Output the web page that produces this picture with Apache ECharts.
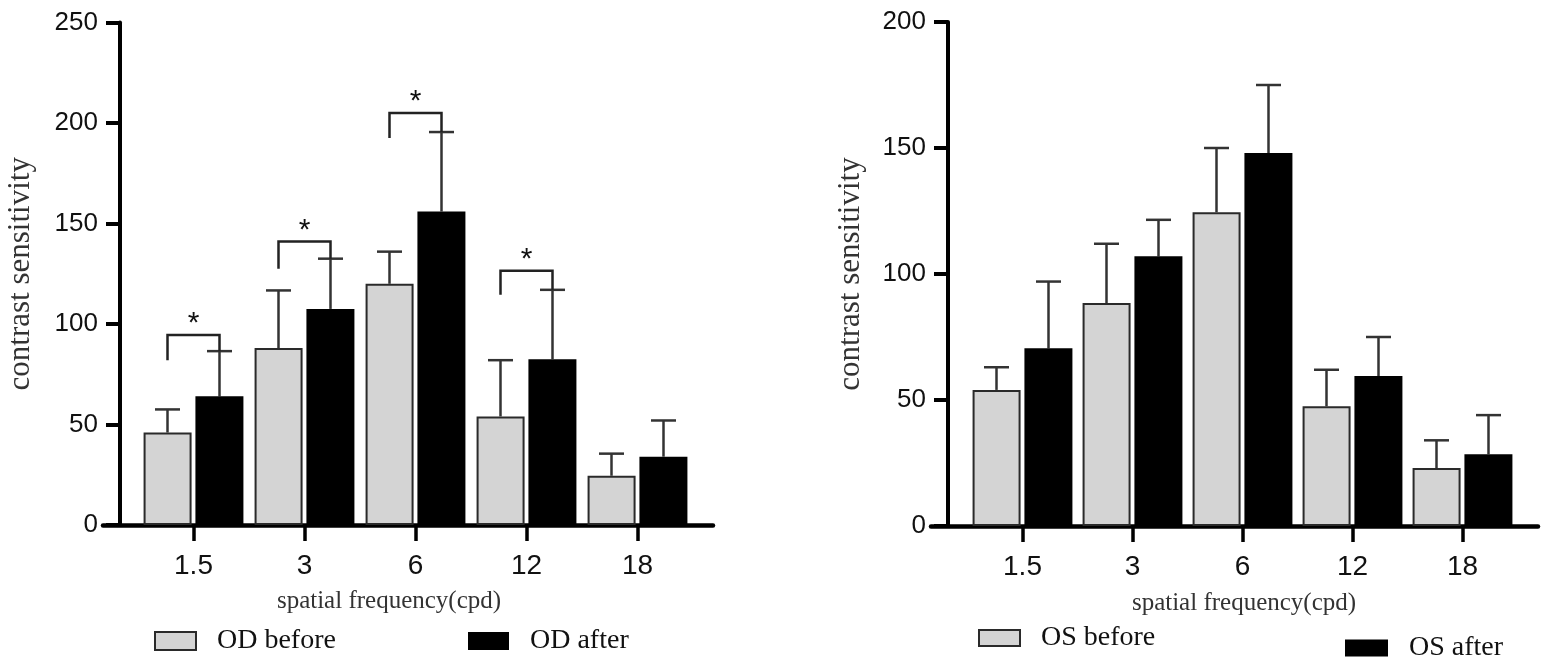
<!DOCTYPE html>
<html>
<head>
<meta charset="utf-8">
<script src="https://cdn.jsdelivr.net/npm/echarts@6/dist/echarts.min.js"></script>
<style>
  html, body { margin: 0; padding: 0; background: #fff; }
  #chart { width: 1547px; height: 661px; }
</style>
</head>
<body>
<div id="chart"></div>
<script>
// categories and values
var categories = ['1.5', '3', '6', '12', '18'];

var odBefore   = [46, 88, 120, 54, 24.5];
var odBeforeSd = [11.5, 28.7, 16, 28, 11];
var odAfter    = [64, 107.5, 156, 82.5, 34];
var odAfterSd  = [22.5, 25, 39.5, 34.5, 18];

var osBefore   = [54, 88.5, 124.5, 47.5, 23];
var osBeforeSd = [9, 23.5, 25.5, 14.5, 11];
var osAfter    = [70.5, 107, 148, 59.5, 28.5];
var osAfterSd  = [26.5, 14.5, 27, 15.5, 15.5];

// significance brackets (left panel): category index, bracket top, left leg end
var sigCats = [0, 1, 2, 3];
var sigTop  = [94.5, 141, 205, 126.5];
var sigLeg  = [82, 127.5, 192.5, 114.5];

var SANS = '"Liberation Sans", Arial, sans-serif';
var SERIF = '"Liberation Serif", "Times New Roman", serif';
var BAR_W = 48;
var HALF = 26;   // bar centre offset from category centre

var chart = echarts.init(document.getElementById('chart'));

function errRender(offset) {
  return function (params, api) {
    var i = api.value(0);
    var x = api.coord([i, 0])[0] + offset;
    var y0 = api.coord([i, api.value(1)])[1];
    var y1 = api.coord([i, api.value(2)])[1];
    var st = { stroke: '#333', lineWidth: 2.5 };
    return {
      type: 'group',
      children: [
        { type: 'line', shape: { x1: x, y1: y0, x2: x, y2: y1 }, style: st },
        { type: 'line', shape: { x1: x - 12.5, y1: y1, x2: x + 12.5, y2: y1 }, style: st }
      ]
    };
  };
}

function sigRender(params, api) {
  var i = api.value(0);
  var cx = api.coord([i, 0])[0];
  var yT = api.coord([i, api.value(1)])[1];
  var yL = api.coord([i, api.value(2)])[1];
  var yR = api.coord([i, api.value(3)])[1];
  var xL = cx - HALF, xR = cx + HALF;
  return {
    type: 'group',
    children: [
      { type: 'polyline', shape: { points: [[xL, yL], [xL, yT], [xR, yT], [xR, yR]] },
        style: { stroke: '#222', lineWidth: 2.5, fill: null } },
      { type: 'text', style: { text: '*', x: (xL + xR) / 2, y: yT + 4, align: 'center',
        verticalAlign: 'bottom', font: '30px ' + SANS, fill: '#111' } }
    ]
  };
}

function errData(vals, sd) {
  return vals.map(function (v, i) { return [i, v, v + sd[i]]; });
}

function yAxisOf(grid, max, offset, gap) {
  return {
    type: 'value', gridIndex: grid, min: 0, max: max, interval: 50, offset: offset,
    name: 'contrast sensitivity', nameLocation: 'middle', nameGap: gap,
    nameTextStyle: { fontFamily: SERIF, fontSize: 31, color: '#333' },
    axisLine: { show: true, lineStyle: { color: '#000', width: 4 } },
    axisTick: { show: true, length: 14, lineStyle: { color: '#000', width: 4 } },
    axisLabel: { margin: 22, fontFamily: SANS, fontSize: 26, color: '#111' },
    splitLine: { show: false }
  };
}

function catAxisOf(grid) {
  return {
    type: 'category', gridIndex: grid, data: categories,
    axisLine: { show: false },
    axisTick: { show: true, alignWithLabel: true, length: 16, lineStyle: { color: '#000', width: 3.5 } },
    axisLabel: { margin: 27, fontFamily: SANS, fontSize: 28, color: '#111' }
  };
}

function lineAxisOf(grid) {
  return {
    type: 'value', gridIndex: grid, min: 0, max: 1,
    axisLine: { show: true, onZero: false, lineStyle: { color: '#000', width: 4.5 } },
    axisTick: { show: false }, axisLabel: { show: false }, splitLine: { show: false }
  };
}

var legendText = { fontFamily: SERIF, fontSize: 28, color: '#111', padding: [0, 0, 0, 16] };

chart.setOption({
  animation: false,
  grid: [
    { left: 138, top: 22.5, width: 555, height: 502.5 },
    { left: 103, top: 22.5, width: 610, height: 502.5 },
    { left: 967.5, top: 22, width: 550, height: 504 },
    { left: 931, top: 22, width: 607, height: 504 }
  ],
  xAxis: [catAxisOf(0), lineAxisOf(1), catAxisOf(2), lineAxisOf(3)],
  yAxis: [
    yAxisOf(0, 250, 18, 84),
    { type: 'value', gridIndex: 1, show: false },
    yAxisOf(2, 200, 19.5, 82),
    { type: 'value', gridIndex: 3, show: false }
  ],
  title: [
    { text: 'spatial frequency(cpd)', left: 384, top: 584, textAlign: 'center',
      textStyle: { fontFamily: SERIF, fontSize: 25, fontWeight: 'normal', color: '#333' } },
    { text: 'spatial frequency(cpd)', left: 1239, top: 586, textAlign: 'center',
      textStyle: { fontFamily: SERIF, fontSize: 25, fontWeight: 'normal', color: '#333' } }
  ],
  legend: [
    { data: ['OD before'], left: 154, top: 627, padding: 0, icon: 'rect', itemWidth: 41, itemHeight: 18, textStyle: legendText },
    { data: ['OD after'], left: 468, top: 627, padding: 0, icon: 'rect', itemWidth: 41, itemHeight: 18, textStyle: legendText },
    { data: ['OS before'], left: 978, top: 624, padding: 0, icon: 'rect', itemWidth: 41, itemHeight: 16, textStyle: legendText },
    { data: ['OS after'], left: 1345, top: 634, padding: 0, icon: 'rect', itemWidth: 43, itemHeight: 17, textStyle: legendText }
  ],
  series: [
    { name: 'OD before', type: 'bar', xAxisIndex: 0, yAxisIndex: 0, data: odBefore, barWidth: BAR_W, barGap: '8%',
      itemStyle: { color: '#d4d4d4', borderColor: '#2a2a2a', borderWidth: 2 } },
    { name: 'OD after', type: 'bar', xAxisIndex: 0, yAxisIndex: 0, data: odAfter, barWidth: BAR_W, barGap: '8%',
      itemStyle: { color: '#000' } },
    { type: 'custom', xAxisIndex: 0, yAxisIndex: 0, renderItem: errRender(-HALF), data: errData(odBefore, odBeforeSd), z: 1 },
    { type: 'custom', xAxisIndex: 0, yAxisIndex: 0, renderItem: errRender(HALF), data: errData(odAfter, odAfterSd), z: 1 },
    { type: 'custom', xAxisIndex: 0, yAxisIndex: 0, renderItem: sigRender, z: 3,
      data: sigCats.map(function (c, k) { return [c, sigTop[k], sigLeg[k], odAfter[c] + odAfterSd[c]]; }) },

    { name: 'OS before', type: 'bar', xAxisIndex: 2, yAxisIndex: 2, data: osBefore, barWidth: BAR_W, barGap: '8%',
      itemStyle: { color: '#d4d4d4', borderColor: '#2a2a2a', borderWidth: 2 } },
    { name: 'OS after', type: 'bar', xAxisIndex: 2, yAxisIndex: 2, data: osAfter, barWidth: BAR_W, barGap: '8%',
      itemStyle: { color: '#000' } },
    { type: 'custom', xAxisIndex: 2, yAxisIndex: 2, renderItem: errRender(-HALF), data: errData(osBefore, osBeforeSd), z: 1 },
    { type: 'custom', xAxisIndex: 2, yAxisIndex: 2, renderItem: errRender(HALF), data: errData(osAfter, osAfterSd), z: 1 }
  ]
});
</script>
</body>
</html>
